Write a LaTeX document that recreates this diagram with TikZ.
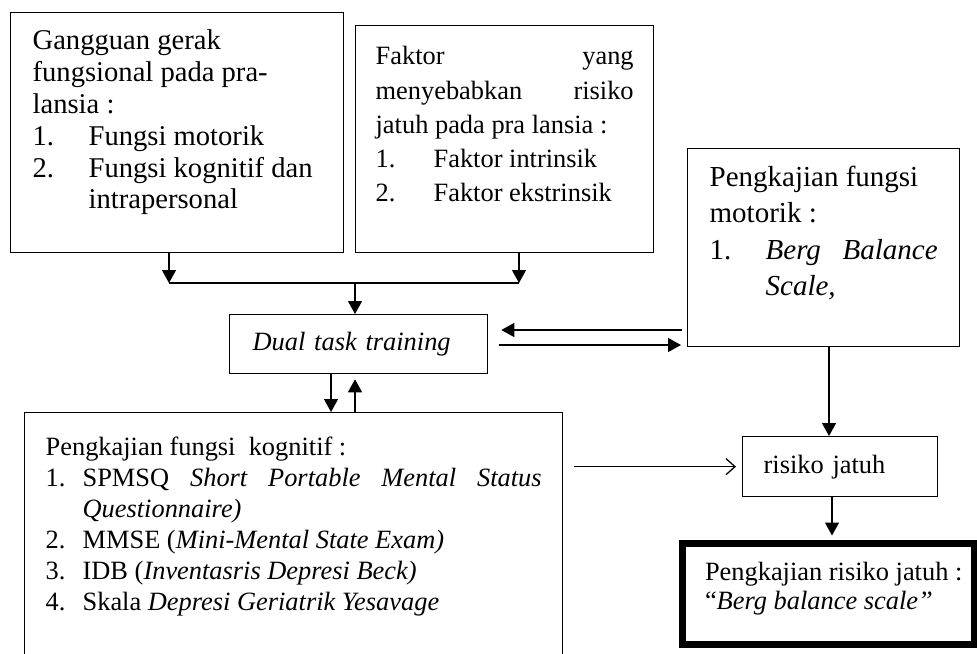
\documentclass[tikz,border=0pt]{standalone}
\usepackage{fontspec}
\setmainfont{Liberation Serif}
\usetikzlibrary{arrows.meta}
\newcommand{\nomor}[2][28pt]{\makebox[#1][l]{#2}}
\newcommand{\isi}[3]{\parbox[t][#2][t]{#1}{#3}}

\begin{document}
\begin{tikzpicture}[x=0.5pt, y=-0.5pt, line width=0.65pt, kotak/.style = {draw, anchor=north west, align=left}, panah/.style = {-{Triangle[length=6.5pt,width=7pt]}}, buka/.style = {-{Straight Barb[length=4.5pt,width=8pt]}}]
		\useasboundingbox (0,0) rectangle (977,653);
		\clip (0,0) rectangle (977,653);
		\node[kotak, inner xsep=11pt, inner ysep=8.75pt, font=\fontsize{14.3}{15.9}\selectfont] (1) at (10,12) {\isi{144.5pt}{102.5pt}{Gangguan gerak\\ fungsional pada pra-\\ lansia :\\ \nomor{1.}Fungsi motorik\\ \nomor{2.}Fungsi kognitif dan\\ \hspace*{28pt}intrapersonal}};
		\node[kotak, inner xsep=10pt, inner ysep=10.5pt, font=\fontsize{13.2}{17.1}\selectfont] (2) at (355,25) {\isi{129pt}{92.5pt}{\makebox[\linewidth][s]{Faktor yang}\\ \makebox[\linewidth][s]{menyebabkan risiko}\\ jatuh pada pra lansia :\\ \nomor[29pt]{1.}Faktor intrinsik\\ \nomor[29pt]{2.}Faktor ekstrinsik}};
		\node[kotak, inner xsep=11pt, inner ysep=8.5pt, font=\fontsize{14.5}{18.3}\selectfont] (3) at (687,148) {\isi{114pt}{82pt}{Pengkajian fungsi\\ motorik :\\ \makebox[\linewidth][s]{\nomor{1.}\textit{Berg} \textit{Balance}}\\ \hspace*{28pt}\textit{Scale,}}};
		\node[kotak, minimum width=129pt, minimum height=29.5pt, text width=106pt, inner xsep=11.5pt, font=\fontsize{13.2}{15}\selectfont] (4) at (229,314) {\textit{Dual task training}};
		\node[kotak, inner xsep=10.5pt, inner ysep=12pt, font=\fontsize{13.2}{15.5}\selectfont] (5) at (24,412) {\isi{248pt}{110pt}{Pengkajian fungsi\ \ kognitif :\\ \makebox[\linewidth][s]{\nomor[18.5pt]{1.}SPMSQ \textit{Short Portable Mental Status}}\\ \hspace*{18.5pt}\textit{Questionnaire)}\\ \nomor[18.5pt]{2.}MMSE (\textit{Mini-Mental State Exam)}\\ \nomor[18.5pt]{3.}IDB (\textit{Inventasris Depresi Beck)}\\ \nomor[18.5pt]{4.}Skala \textit{Depresi Geriatrik Yesavage}}};
		\node[kotak, minimum width=97.5pt, minimum height=30pt, text width=76.5pt, inner xsep=10.5pt, font=\fontsize{13.2}{15}\selectfont] (6) at (742,436) {risiko jatuh};
		\node[kotak, line width=3.5pt, inner xsep=4.5pt, inner ysep=9.5pt, font=\fontsize{13.2}{14.5}\selectfont] (7) at (678.5,539.5) {\isi{137pt}{31.5pt}{\hspace*{7pt}Pengkajian risiko jatuh :\\ \hspace*{7pt}“\textit{Berg balance scale”}}};
		
		\coordinate (a) at (169,283);
		\coordinate (b) at (519,283);
		\coordinate (c) at (355,283);
		\coordinate (d) at (331,393);
		\coordinate (e) at (0,330);
		\coordinate (f) at (0,345);
		\coordinate (g) at (829,400);
		\coordinate (h) at (832,500);
		
		\draw[panah] (1.south -| a) -- (a);
		\draw[panah] (2.south -| b) -- (b);
		\draw (a) -- (b);
		\draw[panah] (c) -- (4.north -| c);
		\draw[panah] (4.south -| d) -- (5.north -| d);
		\draw[panah, shorten >=2.5pt] (5.north -| c) -- (4.south -| c);
		\draw[panah, shorten <=2.5pt, shorten >=6.5pt] (3.west |- e) -- (4.east |- e);
		\draw[panah, shorten <=5.5pt, shorten >=3pt] (4.east |- f) -- (3.west |- f);
		\draw[panah] (3.south -| g) -- (6.north -| g);
		\draw[buka, shorten <=5.5pt, shorten >=3pt] (5.east |- 6.west) -- (6.west);
		\draw[panah, shorten >=2pt] (6.south -| h) -- (7.north -| h);
	\end{tikzpicture}
\end{document}
